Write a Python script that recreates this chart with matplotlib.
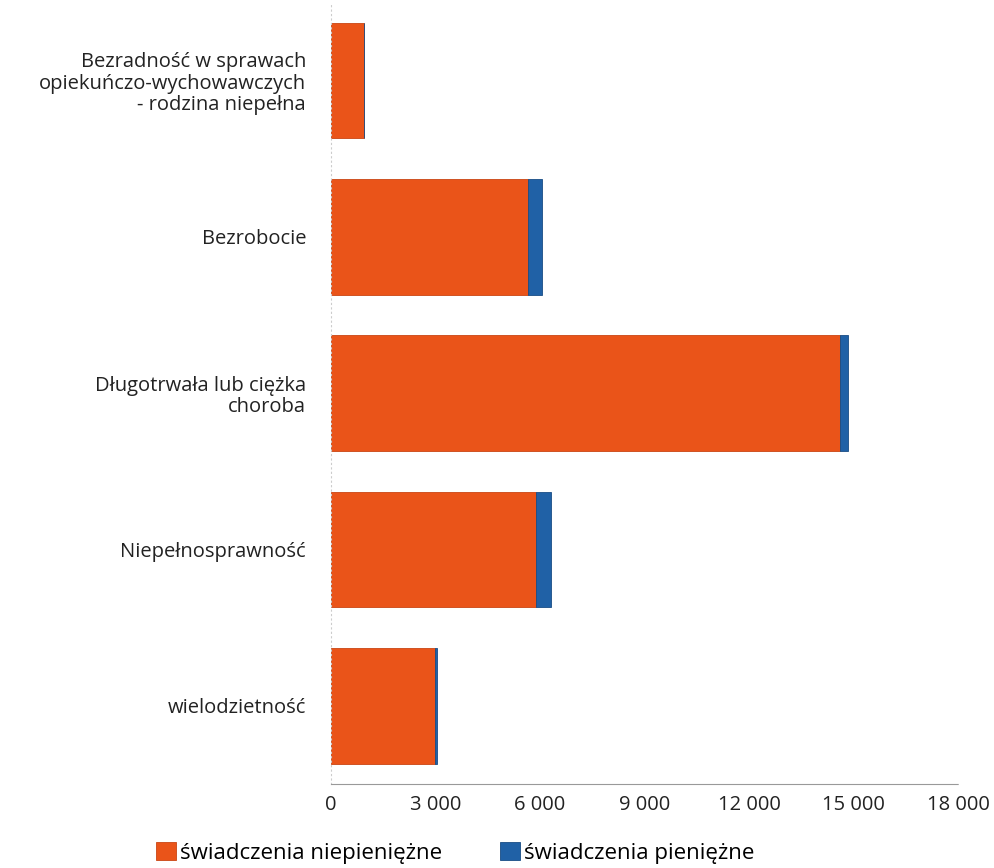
import matplotlib.pyplot as plt
from matplotlib.ticker import FuncFormatter

# categories listed top to bottom
categories = ["Bezradność w sprawach\nopiekuńczo-wychowawczych\n- rodzina niepełna",
              "Bezrobocie",
              "Długotrwała lub ciężka\nchoroba",
              "Niepełnosprawność",
              "wielodzietność"]
niepieniezne = [950, 5640, 14600, 5870, 2980]
pieniezne = [10, 410, 250, 450, 60]
xticks = [0, 3000, 6000, 9000, 12000, 15000, 18000]

orange = '#EA5419'
blue = '#2061A6'

plt.rcParams['font.family'] = ['Open Sans', 'DejaVu Sans']

fig = plt.figure(figsize=(9.94, 8.68), dpi=100)
ax = fig.add_axes([0.333, 0.0968, 0.631, 0.897])

pos = list(range(len(categories)))
ax.barh(pos, niepieniezne, height=0.74, color=orange, edgecolor='#C94513', linewidth=0.6,
        label='świadczenia niepieniężne')
ax.barh(pos, pieniezne, left=niepieniezne, height=0.74, color=blue, edgecolor='#184C85',
        linewidth=0.6, label='świadczenia pieniężne')

ax.set_ylim(4.5, -0.48)
ax.set_xlim(0, 18000)
ax.set_xticks(xticks)
ax.xaxis.set_major_formatter(FuncFormatter(lambda v, p: f"{int(v):,}".replace(",", " ")))
ax.set_yticks(pos)
ax.set_yticklabels(categories, fontsize=14.5, color='#222222', linespacing=1.1)
ax.tick_params(axis='x', labelsize=14.5, length=0, pad=8, colors='#222222')
ax.tick_params(axis='y', length=0, pad=18)

for s in ['top', 'right']:
    ax.spines[s].set_visible(False)
ax.spines['bottom'].set_color('#999999')
ax.spines['bottom'].set_linestyle((0, (4, 1)))
ax.spines['bottom'].set_linewidth(0.8)
ax.spines['left'].set_color('#cccccc')
ax.spines['left'].set_linestyle((0, (1, 3)))
ax.spines['left'].set_linewidth(0.8)

fig.legend(loc='center', bbox_to_anchor=(0.458, 0.0173), ncol=2, frameon=False,
           fontsize=16, handlelength=0.9, handleheight=0.9, handletextpad=0.2,
           columnspacing=2.6, borderpad=0)

fig.savefig('out.png', dpi=100)
